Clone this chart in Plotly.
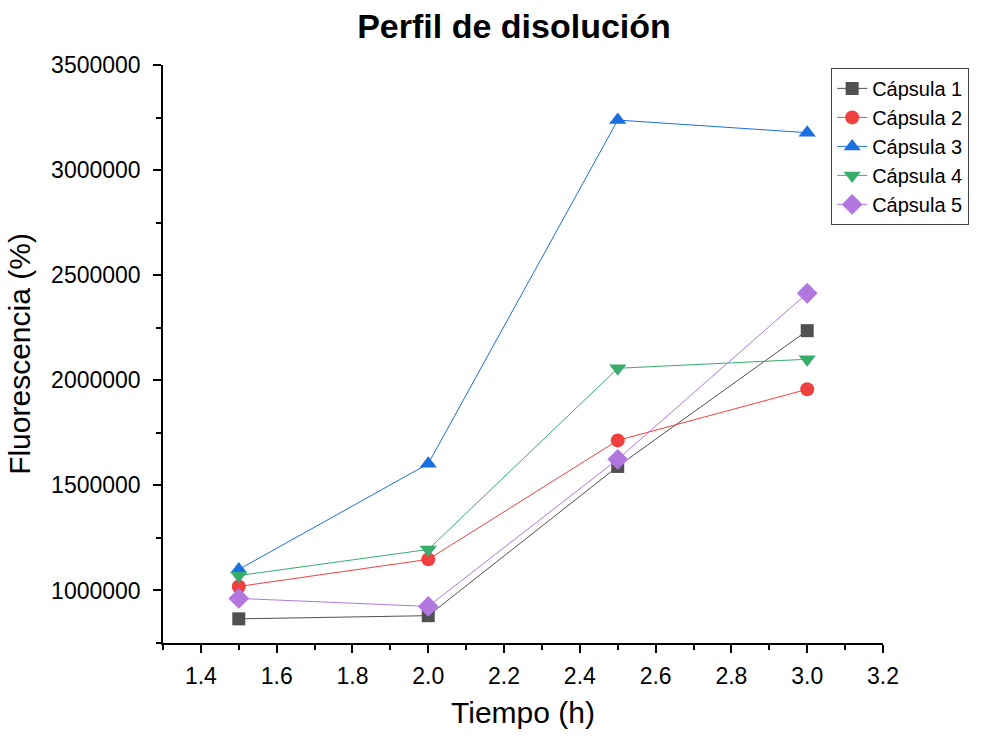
import plotly.graph_objects as go

tiempo = [1.5, 2.0, 2.5, 3.0]
capsula1 = [865000, 880000, 1590000, 2236000]
capsula2 = [1019000, 1148000, 1714000, 1957000]
capsula3 = [1100000, 1603000, 3238000, 3178000]
capsula4 = [1071000, 1195000, 2057000, 2100000]
capsula5 = [962000, 924000, 1624000, 2414000]

names = ["Cápsula 1", "Cápsula 2", "Cápsula 3", "Cápsula 4", "Cápsula 5"]
series = [capsula1, capsula2, capsula3, capsula4, capsula5]
colors = ["#515151", "#F14040", "#1A6FDF", "#37AD6B", "#B177DE"]
symbols = ["square", "circle", "triangle-up", "triangle-down", "diamond"]
sizes = [13, 14, 15, 15, 16]

y_ticks = [1000000, 1500000, 2000000, 2500000, 3000000, 3500000]
x_ticks = [1.4, 1.6, 1.8, 2.0, 2.2, 2.4, 2.6, 2.8, 3.0, 3.2]

fig = go.Figure()
for name, vals, c, s, sz in zip(names, series, colors, symbols, sizes):
    fig.add_trace(go.Scatter(
        x=tiempo, y=vals, name=name, mode="lines+markers",
        line=dict(color=c, width=1),
        marker=dict(color=c, symbol=s, size=sz, line=dict(width=0)),
    ))

font = "Liberation Sans, Arial, sans-serif"
fig.update_layout(
    width=982, height=736,
    margin=dict(l=163, r=99, t=65, b=93),
    plot_bgcolor="white", paper_bgcolor="white",
    font=dict(family=font, color="black"),
    title=dict(text="<b>Perfil de disolución</b>", x=514 / 982, xref="container", xanchor="center",
               y=1 - 26 / 736, yref="container", yanchor="middle",
               font=dict(size=34, family=font, color="black")),
    showlegend=True,
    legend=dict(x=0.928, y=0.995, xanchor="left", yanchor="top",
                bgcolor="white", bordercolor="#444444", borderwidth=1,
                font=dict(size=20, family=font, color="black"),
                tracegroupgap=0, itemwidth=30),
)
fig.update_xaxes(
    range=[1.3, 3.2], tickvals=x_ticks, ticktext=[f"{v:.1f}" for v in x_ticks],
    showgrid=False, zeroline=False, showline=True, linecolor="black", linewidth=1.5,
    ticks="outside", ticklen=8, tickwidth=1.5, tickcolor="black",
    tickfont=dict(size=23, family=font, color="black"), ticklabelstandoff=4,
    minor=dict(dtick=0.1, tick0=1.3, ticks="outside", ticklen=5, tickwidth=1.5, tickcolor="black", showgrid=False),
    title=dict(text="Tiempo (h)", font=dict(size=30, family=font, color="black"), standoff=14),
)
fig.update_yaxes(
    range=[750000, 3500000], tickvals=y_ticks, ticktext=[str(v) for v in y_ticks],
    showgrid=False, zeroline=False, showline=True, linecolor="black", linewidth=1.5,
    ticks="outside", ticklen=8, tickwidth=1.5, tickcolor="black",
    tickfont=dict(size=23, family=font, color="black"), ticklabelstandoff=8,
    minor=dict(dtick=250000, tick0=750000, ticks="outside", ticklen=5, tickwidth=1.5, tickcolor="black", showgrid=False),
    title=dict(text="Fluorescencia (%)", font=dict(size=30, family=font, color="black"), standoff=12),
)

fig.write_html("out.html")
